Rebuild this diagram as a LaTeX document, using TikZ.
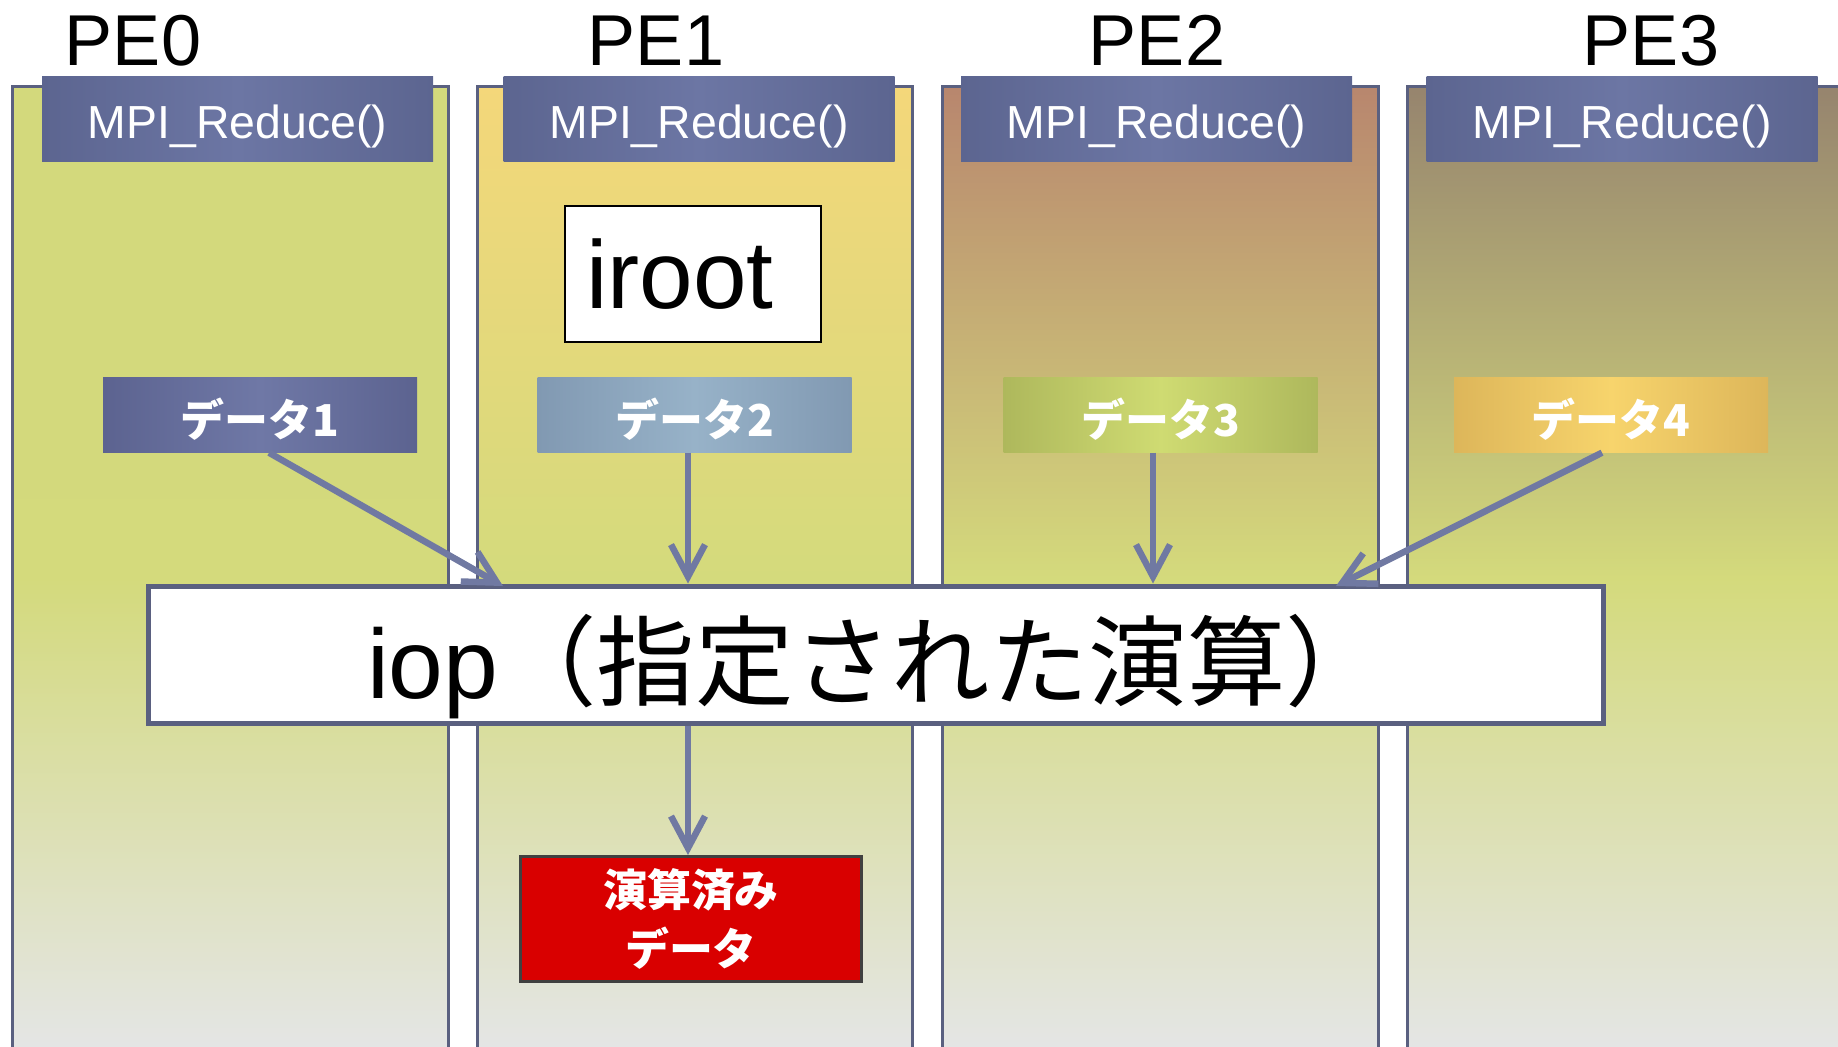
\documentclass[tikz,border=0pt]{standalone}
\usepackage{fontspec}
\setmainfont{Liberation Sans}
\newfontfamily\jp{Noto Sans CJK JP}
\usetikzlibrary{arrows.meta,positioning}
\definecolor{frame}{HTML}{5A6080}
\definecolor{arrowc}{HTML}{7079A2}
\definecolor{greenmid}{HTML}{D4DA7C}
\definecolor{lanebot}{HTML}{E5E6EA}
\definecolor{top0}{HTML}{D3D97C}
\definecolor{top1}{HTML}{F4D77A}
\definecolor{top2}{HTML}{B8866E}
\definecolor{top3}{HTML}{96846E}
\definecolor{callside}{HTML}{5C6590}
\definecolor{callmid}{HTML}{6C76A4}
\definecolor{resred}{HTML}{D90000}
\definecolor{resline}{HTML}{404040}

\begin{document}
\begin{tikzpicture}[x=0.1mm, y=-0.1mm, >={Straight Barb[length=3.2mm,width=3.4mm]},
    lane/.style={draw=frame,line width=0.3mm},
    pe/.style={anchor=base,font=\fontsize{20.5}{24}\selectfont},
    call/.style={minimum width=39.1mm,minimum height=8.5mm,inner sep=0pt,text=white,
      left color=callside,right color=callside,middle color=callmid,
      text height=4.9mm,text depth=1mm,font=\fontsize{13.2}{15}\selectfont},
    data/.style={minimum width=31.4mm,minimum height=7.5mm,inner sep=0pt,text=white,
      text height=5.3mm,text depth=1mm,font=\jp\bfseries\fontsize{12.5}{15}\selectfont},
    flow/.style={->,draw=arrowc,line width=0.65mm}]
  \useasboundingbox (0,0) rectangle (1838,1046);
  % lanes
  \path[lane,top color=top0,bottom color=lanebot,middle color=greenmid!60!top0] (12,86) rectangle (448,1070);
  \path[lane,top color=top1,bottom color=lanebot,middle color=greenmid] (477,86) rectangle (912,1070);
  \path[lane,top color=top2,bottom color=lanebot,middle color=greenmid] (942,86) rectangle (1378,1070);
  \path[lane,top color=top3,bottom color=lanebot,middle color=greenmid] (1407,86) rectangle (1870,1070);
  \node[pe] (pe0) at (133,65) {PE0};
  \node[pe] (pe1) at (656,65) {PE1};
  \node[pe] (pe2) at (1157,65) {PE2};
  \node[pe] (pe3) at (1651,65) {PE3};
  \node[call] (call0) at (237.5,118.5) {MPI\_Reduce()};
  \node[call] (call1) at (699,118.5) {MPI\_Reduce()};
  \node[call] (call2) at (1156.5,118.5) {MPI\_Reduce()};
  \node[call] (call3) at (1622,118.5) {MPI\_Reduce()};
  \node[draw=black,line width=0.15mm,fill=white,text width=21.4mm,inner xsep=2.1mm,
    minimum height=13.6mm,font=\fontsize{27.4}{30}\selectfont] (root) at (693,274) {iroot};
  % data
  \node[data,left color={rgb,255:red,92;green,99;blue,144},right color={rgb,255:red,92;green,99;blue,144},
    middle color={rgb,255:red,111;green,120;blue,166}] (d1) at (260,414.5) {データ1};
  \node[data,left color={rgb,255:red,129;green,153;blue,178},right color={rgb,255:red,129;green,153;blue,178},
    middle color={rgb,255:red,151;green,178;blue,200}] (d2) at (694.5,414.5) {データ2};
  \node[data,left color={rgb,255:red,174;green,184;blue,92},right color={rgb,255:red,174;green,184;blue,92},
    middle color={rgb,255:red,207;green,219;blue,114}] (d3) at (1160.5,414.5) {データ3};
  \node[data,left color={rgb,255:red,221;green,182;blue,90},right color={rgb,255:red,221;green,182;blue,90},
    middle color={rgb,255:red,247;green,212;blue,108}] (d4) at (1611,414.5) {データ4};
  \node[draw=frame,line width=0.5mm,fill=white,minimum width=145.5mm,minimum height=13.7mm,inner sep=0pt,
    text height=10.7mm,text depth=2mm,font=\fontsize{28}{32}\selectfont] (iop) at (875.5,654.5)
    {iop{\jp\fontsize{28}{32}\selectfont（指定された演算）}};
  \node[draw=resline,line width=0.3mm,fill=resred,minimum width=34.1mm,minimum height=12.5mm,inner sep=0pt,
    text=white,align=center,font=\jp\bfseries\fontsize{12.5}{16.8}\selectfont] (res) at (691,919) {演算済み\\データ};
  \coordinate (in1) at (503,586);
  \coordinate (in4) at (1336,586);
  \draw[flow] ([xshift=0.9mm]d1.south) -- (in1);
  \draw[flow] ([xshift=-0.65mm]d2.south) -- ([xshift=-0.65mm]d2.south |- iop.north);
  \draw[flow] ([xshift=-0.75mm]d3.south) -- ([xshift=-0.75mm]d3.south |- iop.north);
  \draw[flow] ([xshift=-0.9mm]d4.south) -- (in4);
  \draw[flow] ([xshift=-0.3mm]iop.south -| res.north) -- ([xshift=-0.3mm]res.north);
\end{tikzpicture}
\end{document}
